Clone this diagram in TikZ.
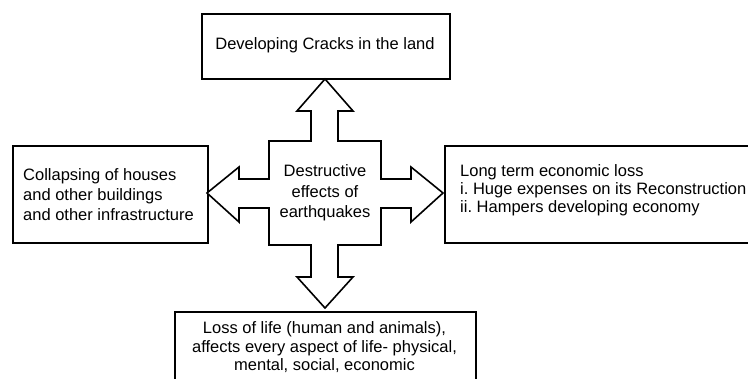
\documentclass[tikz,border=0pt]{standalone}
\usepackage{fontspec}
\setmainfont{Liberation Sans}
\begin{document}
\frenchspacing
\begin{tikzpicture}[x=1pt,y=-1pt,
  every node/.style={font=\fontsize{16.5}{19.5}\selectfont, inner sep=0pt},
  box/.style={draw, line width=1.6pt, rectangle},
  lbl/.style={align=left},
  cbl/.style={align=center}]
\clip (0,0) rectangle (748,379);
% boxes
\node[box, minimum width=248, minimum height=65, anchor=north west] (top) at (201,13) {};
\node[box, minimum width=195, minimum height=97, anchor=north west] (left) at (12,145) {};
\node[box, minimum width=330, minimum height=97, anchor=north west] (right) at (444,145) {};
\node[box, minimum width=301, minimum height=110, anchor=north west] (bottom) at (174,311) {};
% cross of arrows
\draw[line width=1.6pt, line join=miter, fill=white]
  (325,79) -- (353,111) -- (338,111) -- (338,141) -- (381,141) -- (381,179)
  -- (411,179) -- (411,167) -- (443,193) -- (411,222) -- (411,208) -- (381,208)
  -- (381,245) -- (338,245) -- (338,277) -- (353,277) -- (325,308) -- (297,277)
  -- (311,277) -- (311,245) -- (269,245) -- (269,208) -- (239,208) -- (239,222)
  -- (207,193) -- (239,167) -- (239,179) -- (269,179) -- (269,141) -- (311,141)
  -- (311,111) -- (297,111) -- cycle;
% texts
\node[cbl] (toptext) at (325,45.5) {Developing Cracks in the land};
\node[cbl, font=\fontsize{16.5}{20.5}\selectfont] (centertext) at (325,193) {Destructive\\effects of\\earthquakes};
\node[lbl, anchor=west, font=\fontsize{16.5}{20}\selectfont] (lefttext) at (23,195) {Collapsing of houses\\and other buildings\\and other infrastructure};
\node[lbl, anchor=west, font=\fontsize{16.5}{18}\selectfont] (righttext) at (460,190) {Long term economic loss\\i. Huge expenses on its Reconstruction\\ii. Hampers developing economy};
\node[cbl, font=\fontsize{16.5}{18.5}\selectfont] (bottomtext) at (324.5,347.5) {Loss of life (human and animals),\\affects every aspect of life- physical,\\mental, social, economic};
\end{tikzpicture}
\end{document}
